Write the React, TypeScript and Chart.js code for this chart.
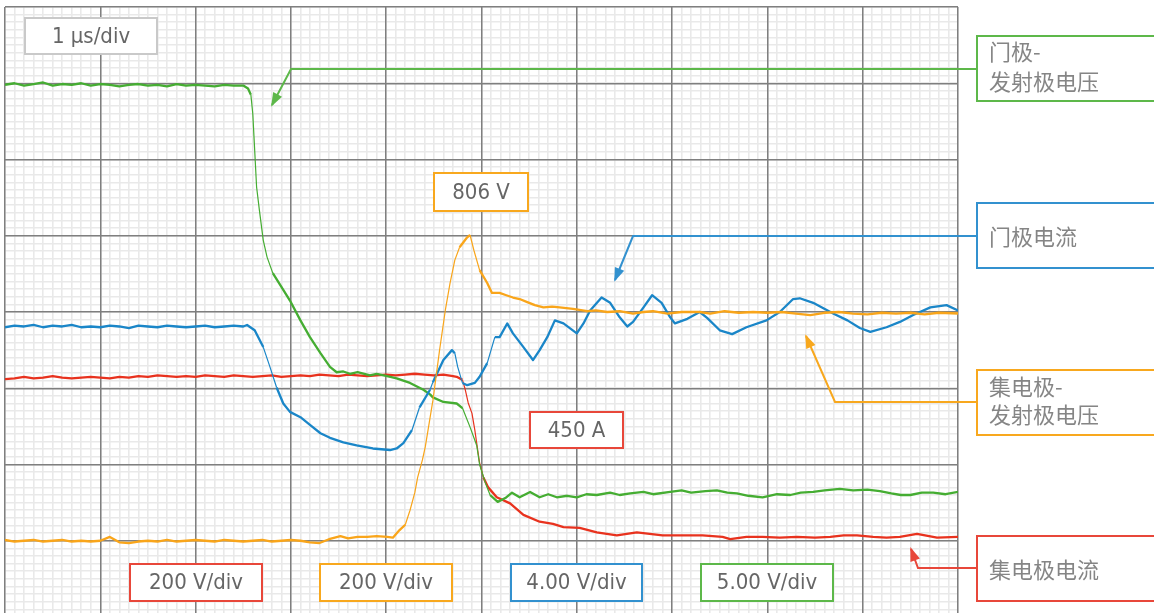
import React, { useEffect, useRef } from "react";
import { Chart, registerables } from "chart.js";

Chart.register(...registerables);

// ---- Data (x in µs = divisions, y in screen divisions 0..8) ----
const gateVoltT = [
  0, 0.1, 0.2, 0.3, 0.4, 0.5, 0.6, 0.7, 0.8, 0.9, 1.0, 1.1, 1.2, 1.3, 1.4, 1.5, 1.6, 1.7, 1.8, 1.9, 2.0, 2.1, 2.2, 2.3, 2.4, 2.5,
  2.55, 2.58, 2.6, 2.62, 2.64, 2.67, 2.71, 2.75, 2.81, 2.92, 2.99, 3.1, 3.2, 3.31, 3.41, 3.48, 3.55, 3.62, 3.7, 3.83, 3.9, 4.01,
  4.11, 4.25, 4.39, 4.46, 4.49, 4.6, 4.74, 4.8, 4.88, 4.95, 4.98, 5.04, 5.09, 5.17, 5.25, 5.32, 5.4, 5.51, 5.61, 5.7, 5.79, 5.9,
  6.0, 6.1, 6.21, 6.35, 6.45, 6.56, 6.7, 6.8, 6.98, 7.1, 7.2, 7.35, 7.47, 7.58, 7.68, 7.8, 7.95, 8.1, 8.24, 8.35, 8.48, 8.6,
  8.76, 8.9, 9.05, 9.18, 9.3, 9.4, 9.5, 9.62, 9.74, 9.87, 10,
];
const gateVolt = [
  6.98, 7.0, 6.97, 6.99, 7.01, 6.97, 6.99, 6.98, 7.0, 6.97, 6.99, 6.98, 6.96, 6.98, 6.99, 6.97, 6.98, 6.96, 6.99, 6.97, 6.98, 6.97, 6.96, 6.98, 6.97, 6.97,
  6.93, 6.85, 6.6, 6.12, 5.64, 5.33, 4.94, 4.72, 4.51, 4.29, 4.15, 3.89, 3.67, 3.46, 3.28, 3.21, 3.22, 3.19, 3.21, 3.17, 3.19, 3.16,
  3.13, 3.07, 2.98, 2.92, 2.88, 2.82, 2.8, 2.74, 2.49, 2.25, 2.0, 1.76, 1.6, 1.51, 1.56, 1.63, 1.57, 1.64, 1.57, 1.61, 1.57, 1.59,
  1.57, 1.61, 1.6, 1.63, 1.6, 1.62, 1.64, 1.61, 1.64, 1.66, 1.63, 1.65, 1.66, 1.63, 1.62, 1.59, 1.57, 1.61, 1.6, 1.63, 1.64, 1.66,
  1.68, 1.66, 1.67, 1.65, 1.62, 1.6, 1.6, 1.63, 1.63, 1.61, 1.64,
];

const ceVoltT = [
  0, 0.1, 0.2, 0.3, 0.4, 0.5, 0.6, 0.7, 0.8, 0.9, 1.0, 1.1, 1.2, 1.3, 1.4, 1.5, 1.6, 1.7, 1.8, 1.9, 2.0, 2.1, 2.2, 2.3, 2.4, 2.5,
  2.6, 2.7, 2.8, 2.9, 3.0, 3.1, 3.2, 3.3, 3.4, 3.52, 3.6, 3.7, 3.8, 3.9, 4.01, 4.07, 4.14, 4.2, 4.25, 4.3, 4.33, 4.38, 4.41, 4.49,
  4.56, 4.62, 4.67, 4.72, 4.77, 4.85, 4.88, 4.92, 4.98, 5.06, 5.11, 5.19, 5.26, 5.33, 5.4, 5.48, 5.56, 5.65, 5.74, 5.82, 5.96,
  6.11, 6.2, 6.32, 6.45, 6.59, 6.7, 6.8, 6.95, 7.1, 7.29, 7.4, 7.55, 7.7, 7.85, 8.0, 8.15, 8.3, 8.45, 8.6, 8.75, 8.9, 9.05, 9.2,
  9.35, 9.5, 9.65, 9.8, 10,
];
const ceVolt = [
  1.01, 0.99, 1.0, 1.01, 0.99, 1.0, 1.01, 0.99, 1.0, 0.99, 1.0, 1.05, 0.98, 0.97, 0.99, 1.0, 0.99, 1.01, 0.99, 1.0, 1.01, 1.0, 0.99, 1.01, 1.0, 0.99,
  1.0, 1.01, 0.99, 1.0, 1.01, 1.0, 0.98, 0.97, 1.02, 1.06, 1.03, 1.05, 1.05, 1.06, 1.05, 1.04, 1.14, 1.21, 1.4, 1.63, 1.83, 2.06, 2.23, 2.84,
  3.5, 4.02, 4.38, 4.68, 4.85, 4.98, 5.01, 4.81, 4.55, 4.38, 4.25, 4.25, 4.22, 4.19, 4.17, 4.13, 4.09, 4.06, 4.07, 4.06, 4.04,
  4.01, 4.02, 4.0, 4.01, 3.98, 4.0, 4.01, 3.98, 4.0, 4.0, 3.98, 4.01, 3.99, 4.0, 3.99, 4.0, 3.98, 3.96, 3.99, 4.0, 3.98, 3.97, 3.99,
  3.98, 3.99, 3.97, 3.99, 3.98,
];

const ceCurrT = [
  0, 0.1, 0.2, 0.3, 0.4, 0.5, 0.6, 0.7, 0.8, 0.9, 1.0, 1.1, 1.2, 1.3, 1.4, 1.5, 1.6, 1.7, 1.8, 1.9, 2.0, 2.1, 2.2, 2.3, 2.4, 2.5,
  2.6, 2.7, 2.8, 2.9, 3.0, 3.1, 3.2, 3.3, 3.4, 3.5, 3.6, 3.7, 3.8, 3.9, 4.0, 4.1, 4.2, 4.3, 4.4, 4.5, 4.6, 4.7,
  4.74, 4.8, 4.83, 4.86, 4.9, 4.93, 4.96, 4.98, 5.02, 5.07, 5.16, 5.3, 5.44, 5.61, 5.75, 5.86, 6.03, 6.21, 6.42, 6.63, 6.9,
  7.11, 7.32, 7.53, 7.61, 7.78, 7.95, 8.13, 8.31, 8.5, 8.66, 8.8, 8.94, 9.11, 9.25, 9.39, 9.57, 9.78, 10,
];
const ceCurr = [
  3.12, 3.13, 3.15, 3.13, 3.14, 3.16, 3.14, 3.13, 3.14, 3.15, 3.14, 3.13, 3.15, 3.14, 3.16, 3.15, 3.17, 3.16, 3.15, 3.16, 3.15, 3.17, 3.16, 3.15, 3.17, 3.16,
  3.15, 3.16, 3.17, 3.15, 3.16, 3.17, 3.16, 3.18, 3.17, 3.16, 3.18, 3.17, 3.16, 3.17, 3.18, 3.17, 3.18, 3.19, 3.18, 3.17, 3.18, 3.16,
  3.15, 3.11, 2.98, 2.81, 2.67, 2.45, 2.19, 2.02, 1.83, 1.7, 1.57, 1.49, 1.34, 1.25, 1.22, 1.18, 1.17, 1.11, 1.07, 1.11, 1.07,
  1.07, 1.07, 1.05, 1.02, 1.05, 1.05, 1.04, 1.05, 1.04, 1.05, 1.07, 1.07, 1.05, 1.04, 1.05, 1.09, 1.04, 1.05,
];

const gateCurrT = [
  0, 0.1, 0.2, 0.3, 0.4, 0.5, 0.6, 0.7, 0.8, 0.9, 1.0, 1.1, 1.2, 1.3, 1.4, 1.5, 1.6, 1.7, 1.8, 1.9, 2.0, 2.1, 2.2, 2.3, 2.4, 2.5,
  2.54, 2.62, 2.71, 2.78, 2.85, 2.92, 2.99, 3.1, 3.2, 3.31, 3.41, 3.55, 3.69, 3.86, 4.04, 4.11, 4.18, 4.27, 4.35, 4.46, 4.49,
  4.6, 4.69, 4.72, 4.75, 4.8, 4.85, 4.93, 4.98, 5.06, 5.14, 5.19, 5.27, 5.33, 5.44, 5.54, 5.61, 5.69, 5.77, 5.86, 6.0, 6.07,
  6.14, 6.26, 6.35, 6.45, 6.53, 6.59, 6.7, 6.79, 6.89, 6.98, 7.03, 7.16, 7.29, 7.37, 7.5, 7.63, 7.78, 7.99, 8.13, 8.27, 8.34,
  8.48, 8.69, 8.84, 8.97, 9.08, 9.25, 9.39, 9.53, 9.71, 9.88, 10,
];
const gateCurr = [
  3.8, 3.82, 3.81, 3.83, 3.8, 3.82, 3.81, 3.83, 3.8, 3.81, 3.8, 3.82, 3.81, 3.79, 3.82, 3.81, 3.8, 3.82, 3.81, 3.8, 3.81, 3.82, 3.8, 3.81, 3.82, 3.81,
  3.83, 3.76, 3.54, 3.28, 3.01, 2.8, 2.69, 2.62, 2.52, 2.41, 2.35, 2.29, 2.25, 2.21, 2.19, 2.21, 2.28, 2.45, 2.75, 2.98, 3.08,
  3.37, 3.5, 3.46, 3.28, 3.07, 3.04, 3.07, 3.15, 3.33, 3.67, 3.67, 3.85, 3.72, 3.54, 3.37, 3.5, 3.67, 3.89, 3.85, 3.72, 3.85,
  4.02, 4.19, 4.12, 3.93, 3.81, 3.87, 4.06, 4.22, 4.12, 3.93, 3.85, 3.91, 4.0, 3.92, 3.76, 3.71, 3.8, 3.89, 4.0, 4.17, 4.18,
  4.12, 3.98, 3.89, 3.79, 3.74, 3.8, 3.87, 3.96, 4.06, 4.09, 4.02,
];

const minorTicksX = Array.from({ length: 101 }, (_, i) => i / 10);
const minorTicksY = Array.from({ length: 81 }, (_, i) => i / 10);
const majorTicksX = [0, 1, 2, 3, 4, 5, 6, 7, 8, 9, 10];
const majorTicksY = [0, 1, 2, 3, 4, 5, 6, 7, 8];

const COLORS = {
  green: "#45ad32",
  blue: "#1a86c8",
  orange: "#f9a51a",
  red: "#e8321e",
};

const LATIN_FONT = '22px "DejaVu Sans Condensed", "DejaVu Sans", sans-serif';
const CJK_FONT = '22px "Noto Sans CJK SC", sans-serif';

const scaleBoxes = [
  { text: "1 µs/div", x: 25, y: 18, w: 132, h: 36, color: "#c9c9c9" },
  { text: "806 V", x: 434, y: 173, w: 94, h: 38, color: "#f8a81e" },
  { text: "450 A", x: 530, y: 412, w: 93, h: 36, color: "#e8473a" },
  { text: "200 V/div", x: 130, y: 564, w: 132, h: 37, color: "#e8473a" },
  { text: "200 V/div", x: 320, y: 564, w: 132, h: 37, color: "#f8a81e" },
  { text: "4.00 V/div", x: 511, y: 564, w: 131, h: 37, color: "#3291cf" },
  { text: "5.00 V/div", x: 701, y: 564, w: 132, h: 37, color: "#5db84a" },
];

const legendBoxes = [
  { lines: ["门极-", "发射极电压"], y: 36, h: 65, lineYs: [52, 82], color: "#5db84a", path: [[977, 69], [291, 69], [272, 105]] },
  { lines: ["门极电流"], y: 203, h: 65, lineYs: [237], color: "#3291cf", path: [[977, 236], [633, 236], [615, 280]] },
  { lines: ["集电极-", "发射极电压"], y: 370, h: 65, lineYs: [387, 415], color: "#f8a81e", path: [[977, 402], [835, 402], [806, 336]] },
  { lines: ["集电极电流"], y: 536, h: 65, lineYs: [570], color: "#e8473a", path: [[977, 568], [918, 568], [911, 549]] },
];

function zip(t: number[], v: number[]) {
  return t.map((x, i) => ({ x, y: v[i] }));
}

const annotPlugin = {
  id: "annot",
  afterDraw(chart: any) {
    const ctx = chart.ctx as CanvasRenderingContext2D;
    ctx.save();
    for (const b of legendBoxes) {
      ctx.strokeStyle = b.color;
      ctx.fillStyle = b.color;
      ctx.lineWidth = 2;
      ctx.beginPath();
      b.path.forEach((p, i) => (i === 0 ? ctx.moveTo(p[0], p[1]) : ctx.lineTo(p[0], p[1])));
      ctx.stroke();
      const [a, c] = [b.path[b.path.length - 2], b.path[b.path.length - 1]];
      const ang = Math.atan2(c[1] - a[1], c[0] - a[0]);
      const L = 12, W = 5;
      ctx.beginPath();
      ctx.moveTo(c[0] + Math.cos(ang) * 2, c[1] + Math.sin(ang) * 2);
      ctx.lineTo(c[0] - Math.cos(ang) * L + Math.sin(ang) * W, c[1] - Math.sin(ang) * L - Math.cos(ang) * W);
      ctx.lineTo(c[0] - Math.cos(ang) * L - Math.sin(ang) * W, c[1] - Math.sin(ang) * L + Math.cos(ang) * W);
      ctx.closePath();
      ctx.fill();

      ctx.fillStyle = "#ffffff";
      ctx.fillRect(977, b.y, 200, b.h);
      ctx.strokeStyle = b.color;
      ctx.strokeRect(977, b.y, 200, b.h);
      ctx.fillStyle = "#858585";
      ctx.font = CJK_FONT;
      ctx.textAlign = "left";
      ctx.textBaseline = "middle";
      b.lines.forEach((s, i) => ctx.fillText(s, 989, b.lineYs[i]));
    }
    for (const b of scaleBoxes) {
      ctx.fillStyle = "#ffffff";
      ctx.fillRect(b.x, b.y, b.w, b.h);
      ctx.strokeStyle = b.color;
      ctx.lineWidth = 2;
      ctx.strokeRect(b.x, b.y, b.w, b.h);
      ctx.fillStyle = "#666666";
      ctx.font = LATIN_FONT;
      ctx.textAlign = "center";
      ctx.textBaseline = "middle";
      ctx.fillText(b.text, b.x + b.w / 2, b.y + b.h / 2 + 1);
    }
    ctx.restore();
  },
};

function gridScale(pos: "bottom" | "left", max: number, ticks: number[], color: string, width: number, z: number) {
  return {
    type: "linear",
    position: pos,
    min: 0,
    max,
    afterBuildTicks: (s: any) => {
      s.ticks = ticks.map((v) => ({ value: v }));
    },
    ticks: { display: false },
    grid: { color, lineWidth: width, drawTicks: false, z },
    border: { display: false },
  };
}

function traceDataset(label: string, t: number[], v: number[], color: string) {
  return {
    label,
    data: zip(t, v),
    borderColor: color,
    borderWidth: 2,
    pointRadius: 0,
    tension: 0,
    borderJoinStyle: "round",
    segment: {
      borderWidth: (c: any) => {
        const dx = Math.abs(c.p1.x - c.p0.x) || 0.01;
        const dy = Math.abs(c.p1.y - c.p0.y);
        return dy / dx > 2.5 ? 1.2 : 2.3;
      },
    },
  };
}

export default function App() {
  const ref = useRef<HTMLCanvasElement | null>(null);
  useEffect(() => {
    if (!ref.current) return;
    const chart = new Chart(ref.current, {
      type: "line",
      data: {
        datasets: [
          traceDataset("集电极-发射极电压", ceVoltT, ceVolt, COLORS.orange),
          traceDataset("门极电流", gateCurrT, gateCurr, COLORS.blue),
          traceDataset("门极-发射极电压", gateVoltT, gateVolt, COLORS.green),
          traceDataset("集电极电流", ceCurrT, ceCurr, COLORS.red),
        ] as any,
      },
      options: {
        animation: false,
        responsive: false,
        parsing: false as any,
        normalized: true,
        layout: { padding: { left: 5, top: 7, right: 196, bottom: 8 } },
        plugins: { legend: { display: false }, tooltip: { enabled: false } },
        scales: {
          xm: gridScale("bottom", 10, minorTicksX, "#e9e9e9", 1.6, -3),
          ym: gridScale("left", 8, minorTicksY, "#e9e9e9", 1.6, -3),
          x: gridScale("bottom", 10, majorTicksX, "#7f7f7f", 1.5, -2),
          y: gridScale("left", 8, majorTicksY, "#7f7f7f", 1.5, -2),
        } as any,
      },
      plugins: [annotPlugin],
    });
    return () => chart.destroy();
  }, []);
  return (
    <div style={{ position: "fixed", left: 0, top: 0, width: 1154, height: 625, background: "#fff" }}>
      <canvas ref={ref} width={1154} height={625} style={{ width: 1154, height: 625, display: "block" }} />
    </div>
  );
}
